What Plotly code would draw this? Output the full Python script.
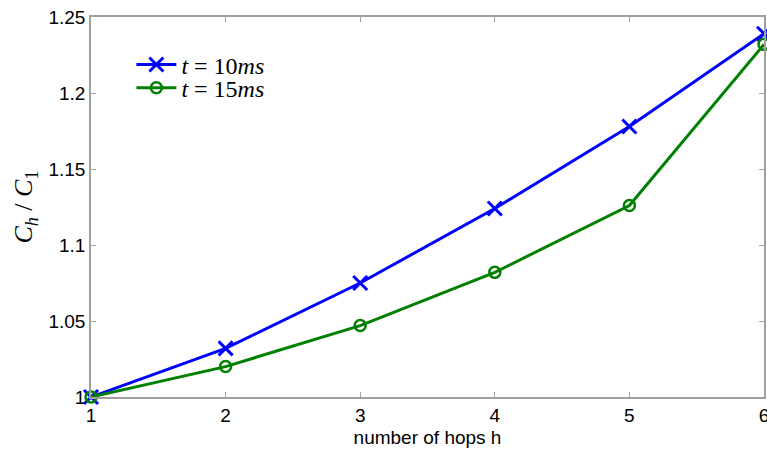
import plotly.graph_objects as go

hops = [1, 2, 3, 4, 5, 6]
t10 = [1.0, 1.032, 1.075, 1.124, 1.178, 1.239]
t15 = [1.0, 1.020, 1.047, 1.082, 1.126, 1.232]
names = ["<i>t</i> = 10<i>ms</i>", "<i>t</i> = 15<i>ms</i>"]

fig = go.Figure()
fig.add_trace(go.Scatter(x=hops, y=t10, mode="lines+markers", name=names[0], cliponaxis=False,
                         legend="legend",
                         line=dict(color="#0000ff", width=3),
                         marker=dict(symbol="x-thin-open", size=14, line=dict(width=3, color="#0000ff"))))
fig.add_trace(go.Scatter(x=hops, y=t15, mode="lines+markers", name=names[1], cliponaxis=False,
                         legend="legend2",
                         line=dict(color="#008000", width=3),
                         marker=dict(symbol="circle-open", size=11, line=dict(width=2.5, color="#008000"))))

axis_common = dict(showgrid=False, zeroline=False, showline=True, linecolor="#a0a0a0", linewidth=1.5,
                   mirror="ticks", ticks="inside", ticklen=5, tickcolor="#a0a0a0", automargin=False,
                   ticklabeloverflow="allow",
                   tickfont=dict(family="Arial, Liberation Sans", size=19, color="black"))

fig.update_xaxes(range=[1, 6], tickvals=hops, ticktext=[str(h) for h in hops],
                 title=dict(text="number of hops h", font=dict(family="Arial, Liberation Sans", size=19, color="black"), standoff=6),
                 **axis_common)
fig.update_yaxes(range=[1, 1.25], tickvals=[1, 1.05, 1.1, 1.15, 1.2, 1.25],
                 ticktext=["1", "1.05", "1.1", "1.15", "1.2", "1.25"],
                 title=dict(text="<i>C<sub>h</sub></i> / <i>C</i><sub>1</sub>", font=dict(family="Liberation Serif, Times New Roman", size=26, color="black"), standoff=8),
                 **axis_common)

legend_style = dict(xanchor="left", yanchor="middle", bgcolor="rgba(0,0,0,0)",
                    font=dict(family="Liberation Serif, Times New Roman", size=24, color="black"),
                    itemwidth=40)
fig.update_layout(width=767, height=450, plot_bgcolor="white", paper_bgcolor="white",
                  margin=dict(l=91, r=3, t=17, b=53, autoexpand=False),
                  legend=dict(x=0.06, y=0.874, **legend_style),
                  legend2=dict(x=0.06, y=0.813, **legend_style),
                  showlegend=True)
fig.write_html("out.html", config={"displayModeBar": False},
               post_script="document.body.style.margin='0';document.body.style.overflow='hidden';")
